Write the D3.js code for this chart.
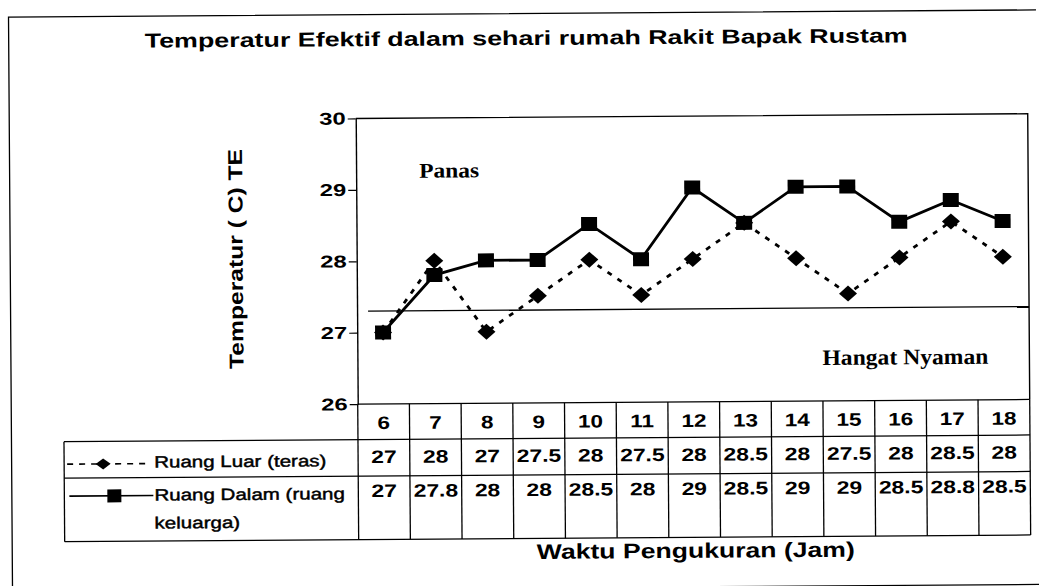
<!DOCTYPE html>
<html>
<head>
<meta charset="utf-8">
<script src="https://cdn.jsdelivr.net/npm/d3@7"></script>
<style>
  html, body { margin: 0; padding: 0; background: #fff; overflow: hidden; }
  svg { display: block; overflow: hidden; }
  text { fill: #000; }
</style>
</head>
<body>
<svg id="chart" width="1039" height="586"></svg>
<script>
// Hourly effective temperature readings
const hours = [6, 7, 8, 9, 10, 11, 12, 13, 14, 15, 16, 17, 18];
const ruangLuar = [27, 28, 27, 27.5, 28, 27.5, 28, 28.5, 28, 27.5, 28, 28.5, 28];
const ruangDalam = [27, 27.8, 28, 28, 28.5, 28, 29, 28.5, 29, 29, 28.5, 28.8, 28.5];
const yTicks = [26, 27, 28, 29, 30];
const comfortLimit = 27.3;

const seriesNames = ["Ruang Luar (teras)", "Ruang Dalam (ruang keluarga)"];

const sans = "'Liberation Sans', Arial, sans-serif";
const serif = "'Liberation Serif', 'Times New Roman', serif";
const WIDE = 1.27; // wide lettering used throughout the sheet

const root = d3.select("#chart");
// the printed sheet sits slightly tilted
const svg = root.append("g").attr("transform", "rotate(-0.4 520 300)");

const plot = { left: 357, right: 1029, top: 117.3, bottom: 403 };
const rows = { hour: 403, luar: 438.5, dalam: 475, end: 538.5 };
const legendLeft = 63;

const x = d3.scaleBand().domain(hours).range([plot.left, plot.right]);
const y = d3.scaleLinear().domain([26, 30]).range([plot.bottom, plot.top]);
const cx = h => x(h) + x.bandwidth() / 2;

// text helper: places a horizontally widened label at (px, py)
function label(parent, px, py, str, opts) {
  const o = Object.assign({ size: 16, weight: "bold", family: sans, anchor: "start", k: WIDE }, opts);
  return parent.append("text")
    .attr("transform", `translate(${px},${py}) scale(${o.k},1)`)
    .attr("text-anchor", o.anchor)
    .style("font-family", o.family)
    .style("font-weight", o.weight)
    .style("font-size", o.size + "px")
    .text(str);
}

// outer frame
svg.append("path")
  .attr("d", "M10.5,596 V13.5 H1038")
  .attr("fill", "none").attr("stroke", "#000").attr("stroke-width", 1.3);
svg.append("line")
  .attr("x1", 600).attr("x2", 1038).attr("y1", 588).attr("y2", 588)
  .attr("stroke", "#000").attr("stroke-width", 1.3);

// title
svg.append("text")
  .attr("x", 528).attr("y", 45)
  .attr("text-anchor", "middle")
  .attr("textLength", 763).attr("lengthAdjust", "spacingAndGlyphs")
  .style("font-family", sans).style("font-weight", "bold").style("font-size", "20px")
  .text("Temperatur Efektif dalam sehari rumah Rakit Bapak Rustam");

// plot border (top and right)
svg.append("path")
  .attr("d", `M${plot.left},${plot.top} H${plot.right} V${plot.bottom}`)
  .attr("fill", "none").attr("stroke", "#000").attr("stroke-width", 1.4);

// y axis
const yAxis = svg.append("g")
  .attr("transform", `translate(${plot.left},0)`)
  .call(d3.axisLeft(y).tickValues(yTicks).tickSize(8).tickSizeOuter(0).tickFormat(d3.format("d")));
yAxis.select(".domain").attr("stroke", "#000").attr("stroke-width", 1.4);
yAxis.selectAll(".tick line").attr("stroke", "#000").attr("stroke-width", 1.2);
yAxis.selectAll(".tick text").remove();
yTicks.forEach(v => {
  label(svg, 347, y(v) + 6, d3.format("d")(v), { size: 17, anchor: "end", k: 1.4 });
});

// y axis title
svg.append("text")
  .attr("transform", "translate(243,257) rotate(-90)")
  .attr("text-anchor", "middle")
  .attr("textLength", 220).attr("lengthAdjust", "spacingAndGlyphs")
  .style("font-family", sans).style("font-weight", "bold").style("font-size", "20px")
  .text("Temperatur ( C) TE");

// comfort threshold
svg.append("line")
  .attr("x1", 368).attr("x2", plot.right)
  .attr("y1", y(comfortLimit)).attr("y2", y(comfortLimit))
  .attr("stroke", "#000").attr("stroke-width", 1.3);

// zone labels
svg.append("text").attr("x", 420).attr("y", 177)
  .attr("textLength", 60).attr("lengthAdjust", "spacingAndGlyphs")
  .style("font-family", serif).style("font-weight", "bold").style("font-size", "21px")
  .text("Panas");
svg.append("text").attr("x", 822).attr("y", 367)
  .attr("textLength", 166).attr("lengthAdjust", "spacingAndGlyphs")
  .style("font-family", serif).style("font-weight", "bold").style("font-size", "22px")
  .text("Hangat Nyaman");

// series
const line = d3.line().x((d, i) => cx(hours[i])).y(d => y(d));
const diamond = (w, h) => `M0,${-h} L${w},0 L0,${h} L${-w},0 Z`;
const box = (w, h) => `M${-w},${-h} H${w} V${h} H${-w} Z`;

svg.append("path").datum(ruangLuar)
  .attr("d", line).attr("fill", "none")
  .attr("stroke", "#000").attr("stroke-width", 2.8).attr("stroke-dasharray", "5,7");
svg.append("g").selectAll("path").data(ruangLuar).join("path")
  .attr("transform", (d, i) => `translate(${cx(hours[i])},${y(d)})`)
  .attr("d", diamond(9, 8)).attr("fill", "#000");

svg.append("path").datum(ruangDalam)
  .attr("d", line).attr("fill", "none")
  .attr("stroke", "#000").attr("stroke-width", 2.8);
svg.append("g").selectAll("path").data(ruangDalam).join("path")
  .attr("transform", (d, i) => `translate(${cx(hours[i])},${y(d)})`)
  .attr("d", box(8, 7)).attr("fill", "#000");

// data table
const table = svg.append("g").attr("stroke", "#000").attr("stroke-width", 1.3).attr("fill", "none");
[rows.luar, rows.dalam, rows.end].forEach(ry => {
  table.append("line").attr("x1", legendLeft).attr("x2", plot.right).attr("y1", ry).attr("y2", ry);
});
table.append("line").attr("x1", plot.left).attr("x2", plot.right).attr("y1", rows.hour).attr("y2", rows.hour);
table.append("line").attr("x1", legendLeft).attr("x2", legendLeft).attr("y1", rows.luar).attr("y2", rows.end);
table.selectAll("line.col").data(hours).join("line").attr("class", "col")
  .attr("x1", h => x(h)).attr("x2", h => x(h))
  .attr("y1", rows.hour).attr("y2", rows.end);
table.append("line").attr("x1", plot.right).attr("x2", plot.right).attr("y1", rows.hour).attr("y2", rows.end);

const cells = svg.append("g");
hours.forEach((h, i) => {
  label(cells, cx(h), 428, String(h), { size: 18, anchor: "middle", k: 1.25 });
  label(cells, cx(h), 462, String(ruangLuar[i]), { size: 18, anchor: "middle", k: 1.27 });
  label(cells, cx(h), 496, String(ruangDalam[i]), { size: 18, anchor: "middle", k: 1.27 });
});

// legend keys
const leg = svg.append("g");
leg.append("line").attr("x1", 66).attr("x2", 150).attr("y1", 461).attr("y2", 461)
  .attr("stroke", "#000").attr("stroke-width", 1.6).attr("stroke-dasharray", "6,6");
leg.append("path").attr("transform", "translate(102,461)").attr("d", diamond(7.5, 5.5)).attr("fill", "#000");
leg.append("line").attr("x1", 68).attr("x2", 152).attr("y1", 493).attr("y2", 493)
  .attr("stroke", "#000").attr("stroke-width", 1.6);
leg.append("path").attr("transform", "translate(113,493)").attr("d", box(7, 6.5)).attr("fill", "#000");

const legOpts = { size: 16.3, weight: "normal", k: 1.26 };
label(leg, 153, 465, seriesNames[0], legOpts).attr("stroke", "#000").attr("stroke-width", 0.45);
label(leg, 153, 498, "Ruang Dalam (ruang", legOpts).attr("stroke", "#000").attr("stroke-width", 0.45);
label(leg, 153, 526, "keluarga)", legOpts).attr("stroke", "#000").attr("stroke-width", 0.45);

// x axis title
svg.append("text")
  .attr("x", 694).attr("y", 559)
  .attr("text-anchor", "middle")
  .attr("textLength", 318).attr("lengthAdjust", "spacingAndGlyphs")
  .style("font-family", sans).style("font-weight", "bold").style("font-size", "21px")
  .text("Waktu Pengukuran (Jam)");
</script>
</body>
</html>
